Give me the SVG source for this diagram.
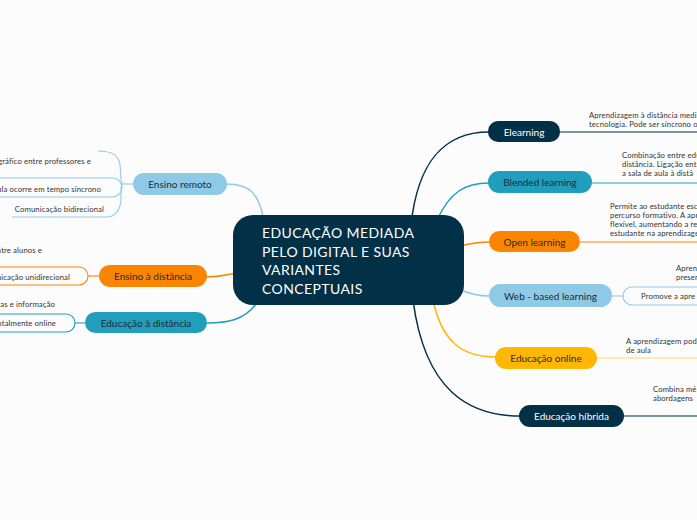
<svg xmlns="http://www.w3.org/2000/svg" width="697" height="520" viewBox="0 0 697 520">
<style>
.bg{fill:#fcfcfd}
.c{fill:none;stroke-width:1.5;stroke-linecap:round}
.s{fill:none;stroke-width:1.1}
.navy{stroke:#023047}.teal{stroke:#219ebc}.lb{stroke:#8ecae6}.or{stroke:#fb8500}.ye{stroke:#ffb703}.yel{stroke:#ffd36b}
.lbl{font-family:Lato,"Liberation Sans",sans-serif;font-size:10px;text-anchor:middle;dominant-baseline:central;fill:#1d2b36}
.lw{fill:#ffffff}
.sm{font-family:Lato,"Liberation Sans",sans-serif;font-size:7.7px;letter-spacing:0.12px;fill:#333333}
.e{text-anchor:end}
.ct{font-family:Lato,"Liberation Sans",sans-serif;font-size:14px;fill:#ffffff;letter-spacing:0.4px}
</style>
<rect class="bg" x="0" y="0" width="697" height="520"/>
<g id="connectors">
  <path class="c navy" d="M411 225 C418 160,445 132,489 132"/>
  <path class="c teal" d="M437 220 C450 192,465 183,489 183"/>
  <path class="c or" d="M460 246 C472 243,478 242,489 242"/>
  <path class="c lb" d="M460 290 C472 294,478 296,489 296"/>
  <path class="c ye" d="M433 300 C442 342,462 357,496 357"/>
  <path class="c navy" d="M413 300 C425 392,470 416,520 416"/>
  <path class="c lb" d="M227 184 C250 184,258 194,263 216"/>
  <path class="c or" d="M207 277 C220 277,225 275,236 273"/>
  <path class="c teal" d="M207 323 C228 323,244 320,256 304"/>
  <path class="s navy" d="M560 132 L697 132"/>
  <path class="s teal" d="M592 183 L697 183"/>
  <path class="s or" d="M580 242 L697 242"/>
  <path class="s lb" d="M612 296 L623 296"/>
  <rect class="s lb" x="623" y="287" width="110" height="18" rx="9"/>
  <path class="s yel" d="M597 358 L697 358"/>
  <path class="s navy" d="M624 416 L697 416"/>
  <path class="s lb" d="M133 184 L123 184"/>
  <path class="s lb" d="M98 151 C112 151,119 155,120 165 L121 178 C121 182,122 184,123 184"/>
  <rect class="s lb" x="-20" y="178" width="142" height="19" rx="9.5"/>
  <path class="s lb" d="M12 217 L106 217 C116 217,120 210,121 200 L121 190 C121 186,122 184,123 184"/>
  <path class="s or" d="M99 276 L88 276"/>
  <rect class="s or" x="-20" y="267" width="108" height="18" rx="9"/>
  <path class="s teal" d="M85 323 L75 323"/>
  <rect class="s teal" x="-20" y="314" width="95" height="18" rx="9"/>
</g>
<g id="center">
  <rect x="233" y="215" width="231" height="90" rx="20" fill="#023047"/>
  <text class="ct" x="262" y="238">EDUCAÇÃO MEDIADA</text>
  <text class="ct" x="262" y="256.5">PELO DIGITAL E SUAS</text>
  <text class="ct" x="262" y="275">VARIANTES</text>
  <text class="ct" x="262" y="293.5">CONCEPTUAIS</text>
</g>
<g id="elearning">
  <rect x="488" y="121" width="72" height="21" rx="10" fill="#023047"/>
  <text class="lbl lw" x="524" y="131.5">Elearning</text>
  <text class="sm" x="589" y="118">Aprendizagem à distância medi</text>
  <text class="sm" x="589" y="127">tecnologia. Pode ser síncrono o</text>
</g>
<g id="blended">
  <rect x="488" y="171" width="104" height="22" rx="11" fill="#219ebc"/>
  <text class="lbl" x="540" y="182">Blended learning</text>
  <text class="sm" x="622" y="158">Combinação entre edu</text>
  <text class="sm" x="622" y="167">distância. Ligação ent</text>
  <text class="sm" x="622" y="176">a sala de aula à distâ</text>
</g>
<g id="open">
  <rect x="489" y="231" width="91" height="21" rx="10.5" fill="#fb8500"/>
  <text class="lbl" x="534.5" y="241.5">Open learning</text>
  <text class="sm" x="610" y="209">Permite ao estudante esc</text>
  <text class="sm" x="610" y="218">percurso formativo. A apr</text>
  <text class="sm" x="610" y="227">flexível, aumentando a res</text>
  <text class="sm" x="610" y="236">estudante na aprendizage</text>
</g>
<g id="web">
  <rect x="489" y="284" width="123" height="23" rx="11.5" fill="#8ecae6"/>
  <text class="lbl" x="550.5" y="295.5">Web - based learning</text>
  <text class="sm" x="676" y="271">Apren</text>
  <text class="sm" x="676" y="280">presen</text>
  <text class="sm" x="641" y="299">Promove a apre</text>
</g>
<g id="online">
  <rect x="495" y="347" width="102" height="22" rx="11" fill="#ffb703"/>
  <text class="lbl" x="546" y="358">Educação online</text>
  <text class="sm" x="626" y="344">A aprendizagem pod</text>
  <text class="sm" x="626" y="353">de aula</text>
</g>
<g id="hibrida">
  <rect x="519" y="405" width="105" height="22" rx="11" fill="#023047"/>
  <text class="lbl lw" x="571.5" y="416">Educação híbrida</text>
  <text class="sm" x="653" y="392">Combina mé</text>
  <text class="sm" x="653" y="401">abordagens</text>
</g>
<g id="remoto">
  <rect x="133" y="173" width="94" height="22" rx="11" fill="#8ecae6"/>
  <text class="lbl" x="180" y="184">Ensino remoto</text>
  <text class="sm e" x="91" y="164">gráfico entre professores e</text>
  <text class="sm e" x="101" y="192">ula ocorre em tempo síncrono</text>
  <text class="sm e" x="104" y="212">Comunicação bidirecional</text>
</g>
<g id="ensino-distancia">
  <rect x="99" y="265" width="108" height="22" rx="11" fill="#fb8500"/>
  <text class="lbl" x="153" y="276">Ensino à distância</text>
  <text class="sm e" x="42" y="253">ntre alunos e</text>
  <text class="sm e" x="70" y="280">nicação unidirecional</text>
</g>
<g id="educacao-distancia">
  <rect x="85" y="312" width="122" height="21" rx="10.5" fill="#219ebc"/>
  <text class="lbl" x="146" y="322.5">Educação à distância</text>
  <text class="sm e" x="55" y="307">as e informação</text>
  <text class="sm e" x="56" y="326">otalmente online</text>
</g>
</svg>
